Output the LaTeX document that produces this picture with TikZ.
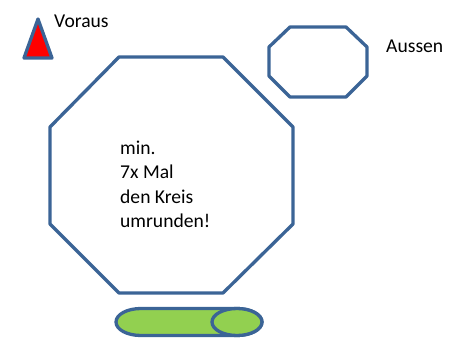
\documentclass[tikz,border=0pt]{standalone}
\usepackage{fontspec}
\setmainfont{Carlito}
\definecolor{edge}{HTML}{3B6496}
\definecolor{fillgreen}{HTML}{92D050}
\tikzset{
  shapeline/.style={draw=edge,line width=3.3pt,line join=round},
  label/.style={inner sep=0pt,anchor=base west,text=black,font=\fontsize{19.6pt}{22pt}\selectfont},
}
\begin{document}
\begin{tikzpicture}[x=1pt,y=-1pt]
\useasboundingbox (0,0) rectangle (463,342);
% big octagon
\draw[shapeline] (119,57)--(223,57)--(293,127)--(293,224)--(223,293)--(119,293)--(50,224)--(50,127)--cycle;
% small octagon
\draw[shapeline] (290,27)--(346,27)--(367,47)--(367,76)--(346,97)--(290,97)--(269,76)--(269,47)--cycle;
% triangle
\draw[shapeline,fill=red] (38,19)--(52,58)--(24,58)--cycle;
% pill
\draw[shapeline,fill=fillgreen] (141,308.5) -- (237,308.5) .. controls (251,308.5) and (262,314.5) .. (262,322) .. controls (262,329.5) and (251,335.5) .. (237,335.5) -- (141,335.5) .. controls (127,335.5) and (116,329.5) .. (116,322) .. controls (116,314.5) and (127,308.5) .. (141,308.5) -- cycle;
\draw[shapeline,fill=fillgreen] (237,322) ellipse [x radius=25,y radius=13.5];
% texts
\node[label] (voraus) at (54,27.5) {Voraus};
\node[label] (aussen) at (386,53) {Aussen};
\node[label] (t1) at (120,154) {min.};
\node[label] (t2) at (120,178) {7x Mal};
\node[label] (t3) at (120,203) {den Kreis};
\node[label] (t4) at (120,227) {umrunden!};
\end{tikzpicture}
\end{document}
